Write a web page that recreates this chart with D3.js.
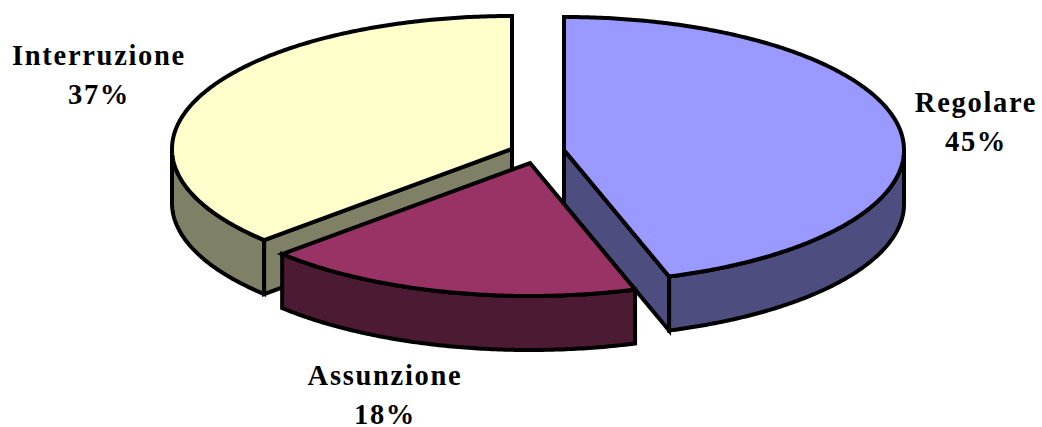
<!DOCTYPE html>
<html>
<head>
<meta charset="utf-8">
<script src="https://cdn.jsdelivr.net/npm/d3@7"></script>
<style>
html, body { margin: 0; padding: 0; background: #fff; }
svg { display: block; }
text { font-family: "Liberation Serif", serif; font-weight: bold; font-size: 28.5px; letter-spacing: 1.7px; fill: #000; text-anchor: middle; }
</style>
</head>
<body>
<svg id="chart" width="1042" height="427"></svg>
<script>
// Share of each outcome, in drawing order clockwise from twelve o'clock
const categories = ["Regolare", "Assunzione", "Interruzione"];
const shares = [45, 18, 37];
const topColors = ["#9999FF", "#993366", "#FFFFCC"];
const wallColors = ["#4D4D80", "#4D1A33", "#808066"];

// Tilted-disc geometry
const radiusX = 340, radiusY = 133, depth = 54;
const apexes = [[564, 150], [530, 163], [512, 149]];
const labelAnchors = [[976, 112], [385, 385], [99, 65]];
const lineGap = 38.5;

const svg = d3.select("#chart");
const arcs = d3.pie().sort(null).value(d => d)(shares);

// Projects a pie angle onto the tilted disc of a slice
const project = (apex, angle, drop = 0) => [
  apex[0] + radiusX * Math.sin(angle),
  apex[1] - radiusY * Math.cos(angle) + drop
];
const rimAngles = (a0, a1) => {
  const n = Math.max(2, Math.ceil((a1 - a0) / 0.01));
  return d3.range(n + 1).map(i => a0 + (a1 - a0) * i / n);
};
const line = d3.line().curve(d3.curveLinear);

const faces = svg.append("g")
  .attr("stroke", "#000")
  .attr("stroke-width", 4)
  .attr("stroke-linejoin", "miter")
  .attr("stroke-miterlimit", 3);

// Back slices first so that the front slice overlaps their cut faces
[2, 0, 1].forEach(i => {
  const a = arcs[i], apex = apexes[i];

  // Outer wall: only the part of the rim on the viewer's side
  const wallStart = Math.max(a.startAngle, Math.PI / 2);
  const wallEnd = Math.min(a.endAngle, Math.PI * 1.5);
  if (wallEnd > wallStart) {
    const rim = rimAngles(wallStart, wallEnd);
    const pts = rim.map(t => project(apex, t))
      .concat(rim.slice().reverse().map(t => project(apex, t, depth)));
    faces.append("path").attr("d", line(pts) + "Z").attr("fill", wallColors[i]);
  }

  // Cut wall along the slice edge that faces the viewer
  if (i !== 1) {
    const t = i === 0 ? a.endAngle : a.startAngle;
    const pts = [apex, project(apex, t), project(apex, t, depth), [apex[0], apex[1] + depth]];
    faces.append("path").attr("d", line(pts) + "Z").attr("fill", wallColors[i]);
  }

  // Top face
  const top = [apex].concat(rimAngles(a.startAngle, a.endAngle).map(t => project(apex, t)));
  faces.append("path").attr("d", line(top) + "Z").attr("fill", topColors[i]);
});

// Two-line labels: name, then percentage
categories.forEach((name, i) => {
  const [x, y] = labelAnchors[i];
  const label = svg.append("text").attr("x", x).attr("y", y);
  label.append("tspan").attr("x", x).text(name);
  label.append("tspan").attr("x", x).attr("dy", lineGap).text(shares[i] + "%");
});
</script>
</body>
</html>
